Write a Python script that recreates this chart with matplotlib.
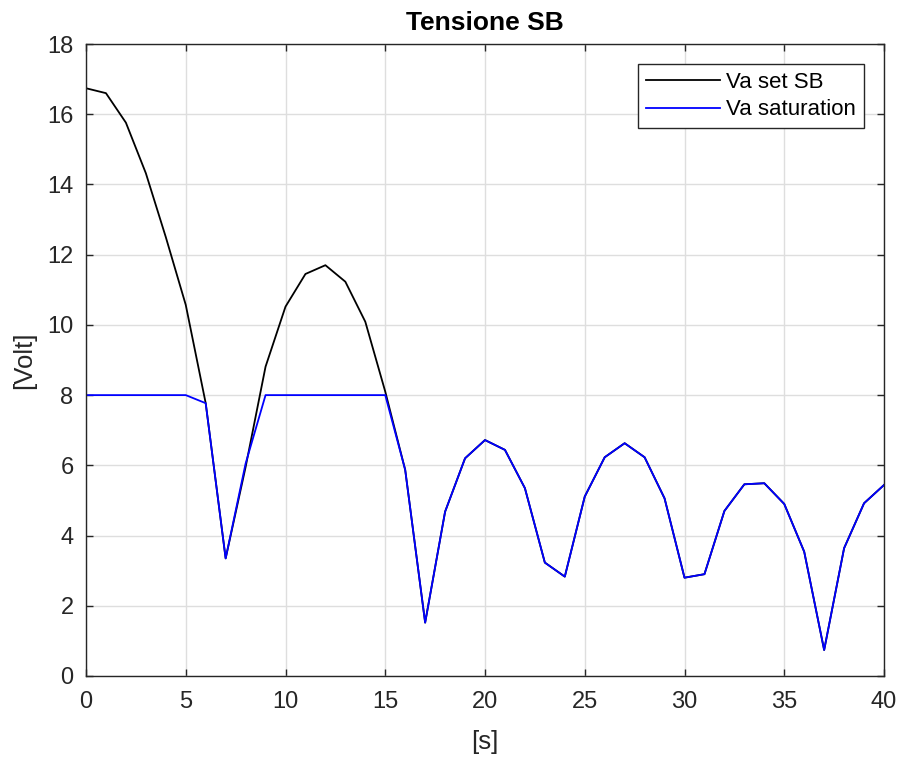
import matplotlib
matplotlib.use("Agg")
import matplotlib.pyplot as plt
import numpy as np

plt.rcParams["font.family"] = ["Liberation Sans", "DejaVu Sans"]

t = np.arange(0, 41)
va_set = [16.74, 16.6, 15.76, 14.32, 12.5, 10.57, 7.77, 3.35, 5.95, 8.81,
          10.52, 11.45, 11.7, 11.23, 10.09, 8.1, 5.87, 1.52, 4.68, 6.2,
          6.72, 6.44, 5.35, 3.23, 2.83, 5.11, 6.23, 6.63, 6.23, 5.06,
          2.8, 2.9, 4.7, 5.46, 5.49, 4.9, 3.54, 0.74, 3.64, 4.92, 5.44]
va_sat = [8, 8, 8, 8, 8, 8, 7.77, 3.35, 6.05, 8,
          8, 8, 8, 8, 8, 8, 5.87, 1.52, 4.68, 6.2,
          6.72, 6.44, 5.35, 3.23, 2.83, 5.11, 6.23, 6.63, 6.23, 5.06,
          2.8, 2.9, 4.7, 5.46, 5.49, 4.9, 3.54, 0.74, 3.64, 4.92, 5.44]

fig = plt.figure(figsize=(9.02, 7.59), dpi=100)
ax = fig.add_axes([86/902, 1-676/759, (884-86)/902, (676-44)/759])
ax.plot(t, va_set, color="black", lw=1.3, label="Va set SB")
ax.plot(t, va_sat, color="blue", lw=1.3, label="Va saturation")
ax.set_xlim(0, 40); ax.set_ylim(0, 18)
ax.set_xticks(np.arange(0, 41, 5)); ax.set_yticks(np.arange(0, 19, 2))
ax.grid(True, color="#dedede", lw=1)
ax.set_axisbelow(True)
ax.tick_params(direction="in", top=True, right=True, length=5, width=1,
               colors="#262626", labelsize=17, labelcolor="#262626")
ax.tick_params(axis="x", pad=11)
ax.tick_params(axis="y", pad=9)
for s in ax.spines.values():
    s.set_color("#262626"); s.set_linewidth(1)
ax.set_xlabel("[s]", fontsize=18.5, color="#262626", labelpad=12)
ax.set_ylabel("[Volt]", fontsize=18.5, color="#262626", labelpad=8)
ax.set_title("Tensione SB", fontsize=19, fontweight="bold", pad=10)
leg = ax.legend(loc="upper right", fontsize=16, handlelength=3.35, handletextpad=0.27,
                fancybox=False, edgecolor="#262626", framealpha=1,
                borderaxespad=0.9, labelspacing=0.3, borderpad=0.35)
leg.get_frame().set_linewidth(1)
fig.savefig("out.png", dpi=100)
plt.close()
